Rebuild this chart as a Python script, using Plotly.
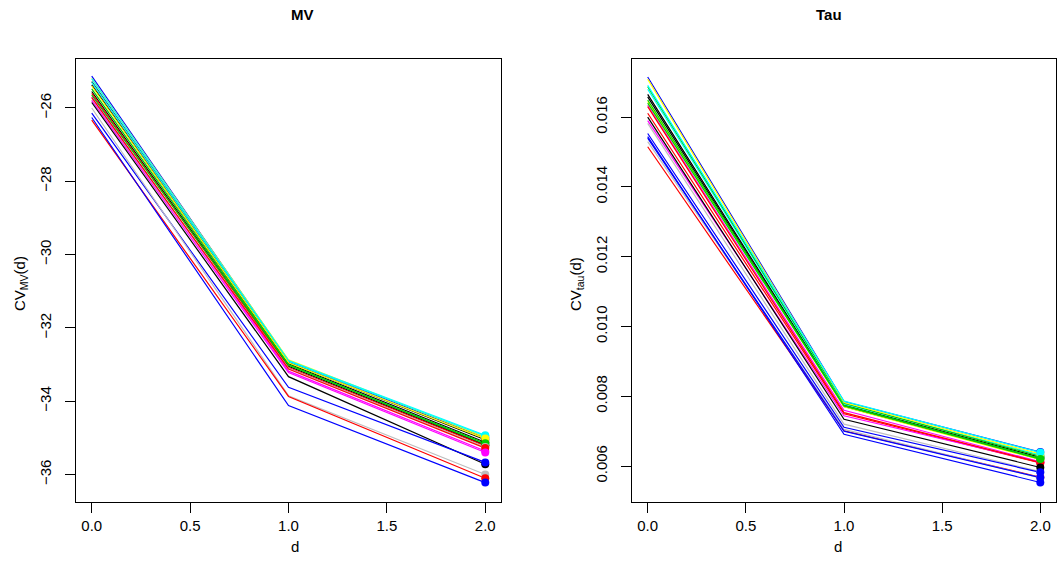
import plotly.graph_objects as go

d_values = [0, 1, 2]

# MV panel: (colour, values at d=0,1,2)
mv_colors = ["blue", "yellow", "cyan", "black", "cyan", "black", "yellow", "green3",
             "black", "red", "green3", "magenta", "gray", "red", "magenta", "black",
             "blue", "gray", "red", "blue"]
mv_d0 = [-25.13, -25.19, -25.20, -25.28, -25.30, -25.37, -25.40, -25.48,
         -25.55, -25.60, -25.65, -25.70, -25.78, -25.72, -25.80, -25.85,
         -26.14, -26.00, -26.33, -26.26]
mv_d1 = [-32.90, -32.87, -32.89, -32.94, -32.92, -32.98, -32.95, -33.00,
         -33.05, -33.08, -33.02, -33.18, -33.10, -33.12, -33.22, -33.33,
         -33.62, -33.85, -33.87, -34.12]
mv_d2 = [-35.00, -34.98, -34.93, -35.05, -34.95, -35.12, -35.02, -35.18,
         -35.20, -35.22, -35.15, -35.36, -35.25, -35.28, -35.40, -35.72,
         -35.67, -36.00, -36.10, -36.22]

# Tau panel
tau_colors = ["blue", "gray", "red", "magenta", "gray", "red", "black", "black", "yellow",
              "magenta", "red", "green3", "cyan", "green3", "yellow", "cyan",
              "black", "blue", "blue", "blue", "green3"]
tau_d0 = [0.01715, 0.01582, 0.01515, 0.01634, 0.01530, 0.01611, 0.01665, 0.01658, 0.01645,
          0.01590, 0.01630, 0.01649, 0.01680, 0.01687, 0.01709, 0.01691,
          0.01600, 0.01553, 0.01544, 0.01540, 0.01640]
tau_d1 = [0.00785, 0.00720, 0.00701, 0.00760, 0.00705, 0.00750, 0.00775, 0.00771, 0.00770,
          0.00744, 0.00753, 0.00774, 0.00778, 0.00780, 0.00782, 0.00786,
          0.00734, 0.00711, 0.00691, 0.00700, 0.00772]
tau_d2 = [0.00640, 0.00584, 0.00568, 0.00612, 0.00566, 0.00609, 0.00625, 0.00620, 0.00618,
          0.00611, 0.00610, 0.00622, 0.00632, 0.00628, 0.00635, 0.00639,
          0.00596, 0.00582, 0.00553, 0.00567, 0.00620]

x_ticks = [0.0, 0.5, 1.0, 1.5, 2.0]
x_tick_labels = ["0.0", "0.5", "1.0", "1.5", "2.0"]
mv_ticks = [-36, -34, -32, -30, -28, -26]
mv_tick_labels = ["\u221236", "\u221234", "\u221232", "\u221230", "\u221228", "\u221226"]
tau_ticks = [0.006, 0.008, 0.010, 0.012, 0.014, 0.016]
tau_tick_labels = ["0.006", "0.008", "0.010", "0.012", "0.014", "0.016"]

R_COLS = {"black": "#000000", "red": "#FF0000", "green3": "#00CD00", "blue": "#0000FF",
          "cyan": "#00FFFF", "magenta": "#FF00FF", "yellow": "#FFFF00", "gray": "#BEBEBE"}

FONT = "Liberation Sans, Arial, sans-serif"

fig = go.Figure()

def add_panel(colors, v0, v1, v2, xa, ya):
    for c, a, b, e in zip(colors, v0, v1, v2):
        fig.add_trace(go.Scatter(x=d_values, y=[a, b, e], mode="lines",
                                 line=dict(color=R_COLS[c], width=1.2),
                                 xaxis=xa, yaxis=ya, showlegend=False, hoverinfo="skip"))
    fig.add_trace(go.Scatter(x=[d_values[2]] * len(v2), y=v2, mode="markers",
                             marker=dict(color=[R_COLS[c] for c in colors], size=8,
                                         line=dict(width=0)),
                             xaxis=xa, yaxis=ya, showlegend=False, hoverinfo="skip"))

add_panel(mv_colors, mv_d0, mv_d1, mv_d2, "x", "y")
add_panel(tau_colors, tau_d0, tau_d1, tau_d2, "x2", "y2")

axis_common = dict(showgrid=False, zeroline=False, showline=True, mirror=True,
                   linecolor="black", linewidth=1, ticks="outside", ticklen=10,
                   tickcolor="black", tickwidth=1,
                   tickfont=dict(family=FONT, size=15, color="black"))

ydom = [1 - 502 / 586, 1 - 58.5 / 586]
fig.update_layout(
    width=1059, height=586, margin=dict(l=0, r=0, t=0, b=0),
    paper_bgcolor="white", plot_bgcolor="white",
    xaxis=dict(domain=[76 / 1059, 501 / 1059], range=[-0.08, 2.08],
               tickvals=x_ticks, ticktext=x_tick_labels, **axis_common),
    yaxis=dict(domain=ydom, range=[-36.75, -24.65], tickvals=mv_ticks,
               ticktext=mv_tick_labels, tickangle=-90, ticklabelstandoff=8, **axis_common),
    xaxis2=dict(domain=[632 / 1059, 1056 / 1059], range=[-0.08, 2.08], anchor="y2",
                tickvals=x_ticks, ticktext=x_tick_labels, **axis_common),
    yaxis2=dict(domain=ydom, range=[0.00497, 0.01768], anchor="x2", tickvals=tau_ticks,
                ticktext=tau_tick_labels, tickangle=-90, ticklabelstandoff=8, **axis_common),
)

ann_font = dict(family=FONT, size=15, color="black")
annotations = [
    dict(text="<b>MV</b>", x=288.5 / 1059, y=1 - 14 / 586, xref="paper", yref="paper",
         showarrow=False, font=dict(family=FONT, size=15, color="black"), yanchor="middle"),
    dict(text="<b>Tau</b>", x=844 / 1059, y=1 - 14 / 586, xref="paper", yref="paper",
         showarrow=False, font=dict(family=FONT, size=15, color="black"), yanchor="middle"),
    dict(text="d", x=288.5 / 1059, y=1 - 546 / 586, xref="paper", yref="paper",
         showarrow=False, font=ann_font, yanchor="middle"),
    dict(text="d", x=844 / 1059, y=1 - 546 / 586, xref="paper", yref="paper",
         showarrow=False, font=ann_font, yanchor="middle"),
    dict(text="CV<sub>MV</sub>(d)", x=20 / 1059, y=1 - 284 / 586, xref="paper", yref="paper",
         showarrow=False, font=ann_font, textangle=-90, xanchor="center", yanchor="middle"),
    dict(text="CV<sub>tau</sub>(d)", x=576 / 1059, y=1 - 284 / 586, xref="paper", yref="paper",
         showarrow=False, font=ann_font, textangle=-90, xanchor="center", yanchor="middle"),
]
fig.update_layout(annotations=annotations)

fig.write_html("out.html")
